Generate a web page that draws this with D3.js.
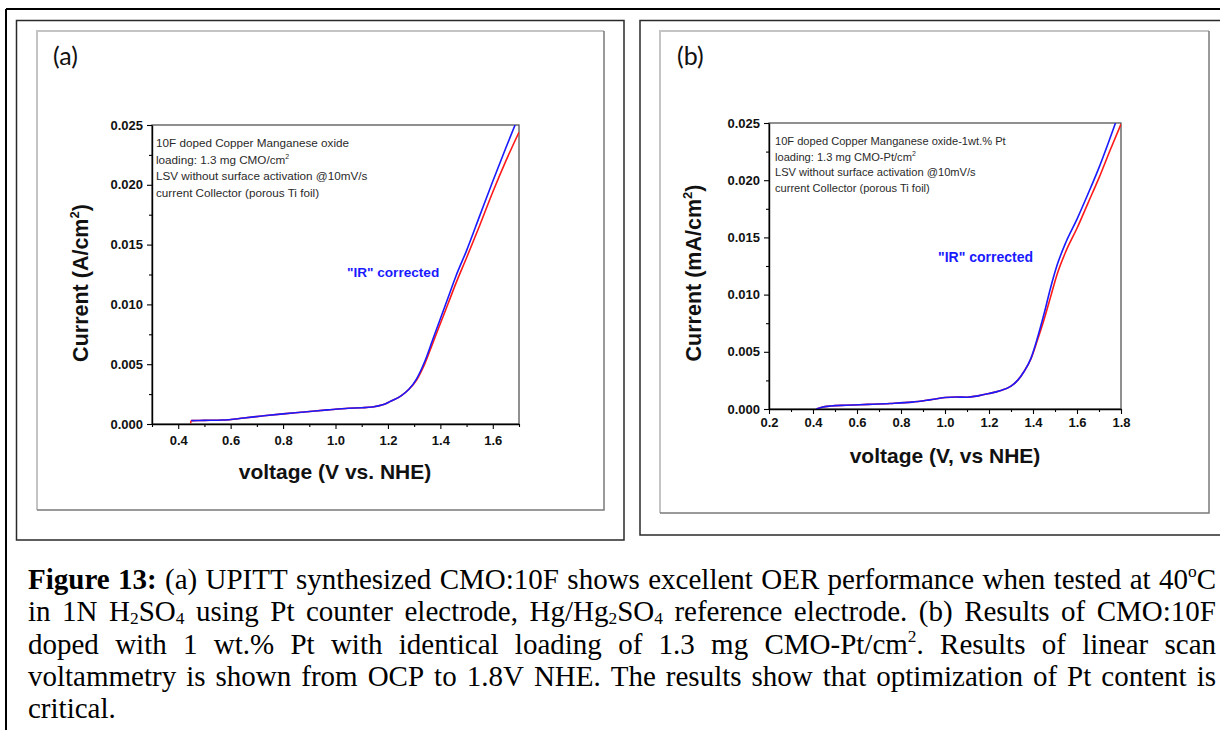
<!DOCTYPE html>
<html>
<head>
<meta charset="utf-8">
<script src="https://cdn.jsdelivr.net/npm/d3@7"></script>
<style>
  html, body { margin: 0; padding: 0; background: #fff; }
  svg { display: block; }
</style>
</head>
<body>
<svg id="chart" width="1220" height="730"></svg>
<script>
// ---------------- DATA ----------------
// Panel (a): CMO:10F
const voltageA_IR  = [0.45, 0.50, 0.57, 0.65, 0.72, 0.80, 0.88, 0.97, 1.05, 1.10, 1.14, 1.18, 1.21, 1.25, 1.28, 1.31, 1.34, 1.37, 1.40, 1.43, 1.46, 1.50, 1.55, 1.60, 1.65, 1.685];
const currentA_IR  = [0.00028, 0.00030, 0.00033, 0.00050, 0.00067, 0.00085, 0.00100, 0.00118, 0.00132, 0.00136, 0.00142, 0.00160, 0.00190, 0.00235, 0.00290, 0.00380, 0.00520, 0.00700, 0.00880, 0.01060, 0.01240, 0.01450, 0.01740, 0.02030, 0.02310, 0.02500];
const voltageA_raw = [0.447, 0.45, 0.50, 0.57, 0.65, 0.72, 0.80, 0.88, 0.97, 1.05, 1.10, 1.14, 1.18, 1.21, 1.25, 1.28, 1.31, 1.34, 1.37, 1.40, 1.43, 1.46, 1.50, 1.55, 1.60, 1.65, 1.70];
const currentA_raw = [0.00005, 0.00028, 0.00030, 0.00033, 0.00050, 0.00067, 0.00085, 0.00100, 0.00118, 0.00132, 0.00136, 0.00142, 0.00160, 0.00190, 0.00235, 0.00290, 0.00370, 0.00500, 0.00670, 0.00840, 0.01010, 0.01180, 0.01390, 0.01660, 0.01940, 0.02200, 0.02440];

// Panel (b): CMO:10F - 1 wt.% Pt
const voltageB_IR  = [0.415, 0.44, 0.48, 0.55, 0.65, 0.75, 0.85, 0.93, 1.00, 1.05, 1.10, 1.15, 1.20, 1.25, 1.30, 1.33, 1.36, 1.39, 1.42, 1.45, 1.48, 1.51, 1.55, 1.60, 1.65, 1.70, 1.775];
const currentB_IR  = [0.00000, 0.00015, 0.00026, 0.00033, 0.00040, 0.00048, 0.00060, 0.00080, 0.00100, 0.00105, 0.00103, 0.00115, 0.00135, 0.00160, 0.00200, 0.00250, 0.00330, 0.00440, 0.00620, 0.00830, 0.01060, 0.01260, 0.01460, 0.01660, 0.01880, 0.02110, 0.02500];
const voltageB_raw = [0.415, 0.44, 0.48, 0.55, 0.65, 0.75, 0.85, 0.93, 1.00, 1.05, 1.10, 1.15, 1.20, 1.25, 1.30, 1.33, 1.36, 1.39, 1.42, 1.45, 1.48, 1.51, 1.55, 1.60, 1.65, 1.70, 1.75, 1.80];
const currentB_raw = [0.00000, 0.00015, 0.00026, 0.00033, 0.00040, 0.00048, 0.00060, 0.00080, 0.00100, 0.00105, 0.00103, 0.00115, 0.00135, 0.00160, 0.00200, 0.00250, 0.00330, 0.00435, 0.00600, 0.00780, 0.00980, 0.01180, 0.01380, 0.01580, 0.01800, 0.02020, 0.02260, 0.02490];

// Tick values / labels
const yTickValues   = [0, 0.005, 0.010, 0.015, 0.020, 0.025];
const yMinorValues  = [0.0025, 0.0075, 0.0125, 0.0175, 0.0225];
const xTicksA       = [0.4, 0.6, 0.8, 1.0, 1.2, 1.4, 1.6];
const xMinorA       = [0.3, 0.5, 0.7, 0.9, 1.1, 1.3, 1.5, 1.7];
const xTicksB       = [0.2, 0.4, 0.6, 0.8, 1.0, 1.2, 1.4, 1.6, 1.8];
const xMinorB       = [0.3, 0.5, 0.7, 0.9, 1.1, 1.3, 1.5, 1.7];

// Texts
const panelLabels   = ["(a)", "(b)"];
const xTitles       = ["voltage (V vs. NHE)", "voltage (V, vs NHE)"];
const yTitleUnits   = ["A/cm", "mA/cm"];
const notesA = ["10F doped Copper Manganese oxide", "loading: 1.3 mg CMO/cm^2", "LSV without surface activation @10mV/s", "current Collector (porous Ti foil)"];
const notesB = ["10F doped Copper Manganese oxide-1wt.% Pt", "loading: 1.3 mg CMO-Pt/cm^2", "LSV without surface activation @10mV/s", "current Collector (porous Ti foil)"];
const irLabel = "\"IR\" corrected";
const captionLines = [
  "*Figure *13: (a) UPITT synthesized CMO:10F shows excellent OER performance when tested at 40^oC",
  "in 1N H_2SO_4 using Pt counter electrode, Hg/Hg_2SO_4 reference electrode. (b) Results of CMO:10F",
  "doped with 1 wt.% Pt with identical loading of 1.3 mg CMO-Pt/cm^2. Results of linear scan",
  "voltammetry is shown from OCP to 1.8V NHE. The results show that optimization of Pt content is",
  "critical."
];

// ---------------- DRAW ----------------
const svg = d3.select("#chart");
svg.append("rect").attr("width", 1220).attr("height", 730).attr("fill", "#fff");

const SANS = "'Liberation Sans', Arial, Helvetica, sans-serif";

// Outer table borders
svg.append("line").attr("x1", 6).attr("x2", 1220).attr("y1", 9).attr("y2", 9).attr("stroke", "#000").attr("stroke-width", 2);
svg.append("line").attr("x1", 6).attr("x2", 6).attr("y1", 9).attr("y2", 730).attr("stroke", "#000").attr("stroke-width", 2);

// Panel boxes
function panelFrame(x0, y0, x1, y1, gx0, gy0, gx1, gy1) {
  const g = svg.append("g");
  g.append("path").attr("d", `M${x0},${y0}H${x1}V${y1}H${x0}Z`).attr("fill", "none").attr("stroke", "#2a2a2a").attr("stroke-width", 1.5);
  g.append("path").attr("d", `M${gx0},${gy1}V${gy0}H${gx1}`).attr("fill", "none").attr("stroke", "#c4c4c4").attr("stroke-width", 2);
  g.append("path").attr("d", `M${gx1},${gy0}V${gy1}H${gx0}`).attr("fill", "none").attr("stroke", "#7a7a7a").attr("stroke-width", 1.5);
}
panelFrame(16.5, 20.5, 624, 540, 37, 31, 604, 510);
panelFrame(640, 20.5, 1232, 535, 660, 31, 1209, 513);

function addMarkupText(sel, str, baseSize, supSize, supDy) {
  const parts = str.split("^");
  sel.append("tspan").text(parts[0]);
  if (parts.length > 1) {
    sel.append("tspan").attr("font-size", supSize).attr("dy", -supDy).text(parts[1]);
  }
}

function drawPanel(cfg) {
  const x = d3.scaleLinear().domain(cfg.xDomain).range(cfg.xRange);
  const y = d3.scaleLinear().domain([0, 0.025]).range(cfg.yRange);
  const g = svg.append("g");

  // panel label
  g.append("text").attr("x", cfg.labelPos[0]).attr("y", cfg.labelPos[1])
    .attr("font-family", "Lato, 'Open Sans', sans-serif").attr("font-size", 25).attr("fill", "#111").text(cfg.label);

  // frame
  g.append("rect").attr("x", cfg.xRange[0]).attr("y", cfg.yRange[1])
    .attr("width", cfg.xRange[1] - cfg.xRange[0]).attr("height", cfg.yRange[0] - cfg.yRange[1])
    .attr("fill", "none").attr("stroke", "#555").attr("stroke-width", 1.3);

  // clip
  const clipId = "clip" + cfg.label.replace(/\W/g, "");
  g.append("clipPath").attr("id", clipId).append("rect")
    .attr("x", cfg.xRange[0]).attr("y", cfg.yRange[1])
    .attr("width", cfg.xRange[1] - cfg.xRange[0]).attr("height", cfg.yRange[0] - cfg.yRange[1]);

  const line = d3.line().x(d => x(d[0])).y(d => y(d[1])).curve(d3.curveMonotoneX);
  const raw = d3.zip(cfg.vRaw, cfg.iRaw);
  const ir = d3.zip(cfg.vIR, cfg.iIR);
  const curves = g.append("g").attr("clip-path", `url(#${clipId})`);
  curves.append("path").datum(raw).attr("d", line).attr("fill", "none").attr("stroke", "#ff1a1a").attr("stroke-width", 1.6);
  curves.append("path").datum(ir).attr("d", line).attr("fill", "none").attr("stroke", "#1a1aff").attr("stroke-width", 1.6);

  // axes
  const styleAxis = (a) => {
    a.selectAll("path.domain").attr("stroke", "#000").attr("stroke-width", 1.4);
    a.selectAll(".tick line").attr("stroke", "#000").attr("stroke-width", 1.1);
    a.selectAll("text").attr("font-family", SANS).attr("font-weight", "bold").attr("font-size", 13).attr("fill", "#111");
  };
  const yAx = g.append("g").attr("transform", `translate(${cfg.xRange[0]},0)`)
    .call(d3.axisLeft(y).tickValues(yTickValues).tickFormat(d3.format(".3f")).tickSize(5).tickSizeOuter(0).tickPadding(4));
  styleAxis(yAx);
  const yMin = g.append("g").attr("transform", `translate(${cfg.xRange[0]},0)`)
    .call(d3.axisLeft(y).tickValues(yMinorValues).tickFormat("").tickSize(3));
  yMin.select("path.domain").remove();
  styleAxis(yMin);

  const xAx = g.append("g").attr("transform", `translate(0,${cfg.yRange[0]})`)
    .call(d3.axisBottom(x).tickValues(cfg.xTicks).tickFormat(d3.format(".1f")).tickSize(5).tickSizeOuter(0).tickPadding(cfg.xPad));
  styleAxis(xAx);
  const xMin = g.append("g").attr("transform", `translate(0,${cfg.yRange[0]})`)
    .call(d3.axisBottom(x).tickValues(cfg.xMinor).tickFormat("").tickSize(3));
  xMin.select("path.domain").remove();
  styleAxis(xMin);

  // axis titles
  g.append("text").attr("x", cfg.xTitlePos[0]).attr("y", cfg.xTitlePos[1]).attr("text-anchor", "middle")
    .attr("font-family", SANS).attr("font-weight", "bold").attr("font-size", 21).attr("fill", "#111").text(cfg.xTitle);
  const yt = g.append("text").attr("transform", `translate(${cfg.yTitlePos[0]},${cfg.yTitlePos[1]}) rotate(-90)`)
    .attr("text-anchor", "middle").attr("font-family", SANS).attr("font-weight", "bold").attr("font-size", 21.5).attr("fill", "#111");
  yt.append("tspan").text("Current (" + cfg.yUnit);
  yt.append("tspan").attr("font-size", 13).attr("dy", -9).text("2");
  yt.append("tspan").attr("dy", 9).text(")");

  // notes
  cfg.notes.forEach((s, i) => {
    const t = g.append("text").attr("x", cfg.notePos[0]).attr("y", cfg.notePos[1] + i * cfg.noteStep)
      .attr("font-family", SANS).attr("font-size", cfg.noteSize).attr("fill", "#2a2a2a");
    addMarkupText(t, s, cfg.noteSize, 7, 5);
  });

  g.append("text").attr("x", cfg.irPos[0]).attr("y", cfg.irPos[1])
    .attr("font-family", SANS).attr("font-weight", "bold").attr("font-size", cfg.irSize).attr("fill", "#1a1aff").text(irLabel);
}

drawPanel({
  label: panelLabels[0], labelPos: [53, 65],
  xDomain: [0.3, 1.7], xRange: [152, 519], yRange: [424, 125],
  xTicks: xTicksA, xMinor: xMinorA, xPad: 7,
  vRaw: voltageA_raw, iRaw: currentA_raw, vIR: voltageA_IR, iIR: currentA_IR,
  xTitle: xTitles[0], xTitlePos: [335, 479],
  yUnit: yTitleUnits[0], yTitlePos: [88, 283],
  notes: notesA, notePos: [156, 147], noteStep: 16.7, noteSize: 11.7,
  irPos: [347, 277], irSize: 13.6
});

drawPanel({
  label: panelLabels[1], labelPos: [677, 65],
  xDomain: [0.2, 1.8], xRange: [769, 1121], yRange: [409, 123],
  xTicks: xTicksB, xMinor: xMinorB, xPad: 4,
  vRaw: voltageB_raw, iRaw: currentB_raw, vIR: voltageB_IR, iIR: currentB_IR,
  xTitle: xTitles[1], xTitlePos: [945, 463],
  yUnit: yTitleUnits[1], yTitlePos: [701, 273],
  notes: notesB, notePos: [775, 145], noteStep: 15.6, noteSize: 11.1,
  irPos: [938, 262], irSize: 14
});

// ---------------- CAPTION (justified) ----------------
const capLeft = 28, capRight = 1216, capTop = 589, capStep = 32.3, capSize = 29;
const capG = svg.append("g").attr("font-family", "'Liberation Serif', 'Times New Roman', serif")
  .attr("font-size", capSize).attr("fill", "#000");

function renderWord(parent, word) {
  let bold = false;
  if (word.startsWith("*")) { bold = true; word = word.slice(1); }
  const t = parent.append("text").attr("y", 0);
  if (bold) t.attr("font-weight", "bold");
  const re = /([_^])(.)|([^_^]+)/g;
  let m, offset = 0;
  while ((m = re.exec(word)) !== null) {
    if (m[3] !== undefined) {
      t.append("tspan").attr("dy", -offset).text(m[3]);
      offset = 0;
    } else {
      const target = m[1] === "_" ? 3 : -12;
      t.append("tspan").attr("font-size", capSize * 0.6).attr("dy", target - offset).text(m[2]);
      offset = target;
    }
  }
  return t;
}

captionLines.forEach((line, li) => {
  const lg = capG.append("g").attr("transform", `translate(0,${capTop + li * capStep})`);
  const words = line.split(" ");
  const els = words.map(w => renderWord(lg, w));
  const widths = els.map(e => e.node().getComputedTextLength());
  const total = d3.sum(widths);
  const justify = li < captionLines.length - 1;
  const gap = justify ? (capRight - capLeft - total) / (words.length - 1) : capSize * 0.25;
  let xpos = capLeft;
  els.forEach((e, i) => { e.attr("x", xpos); xpos += widths[i] + gap; });
});
</script>
</body>
</html>
